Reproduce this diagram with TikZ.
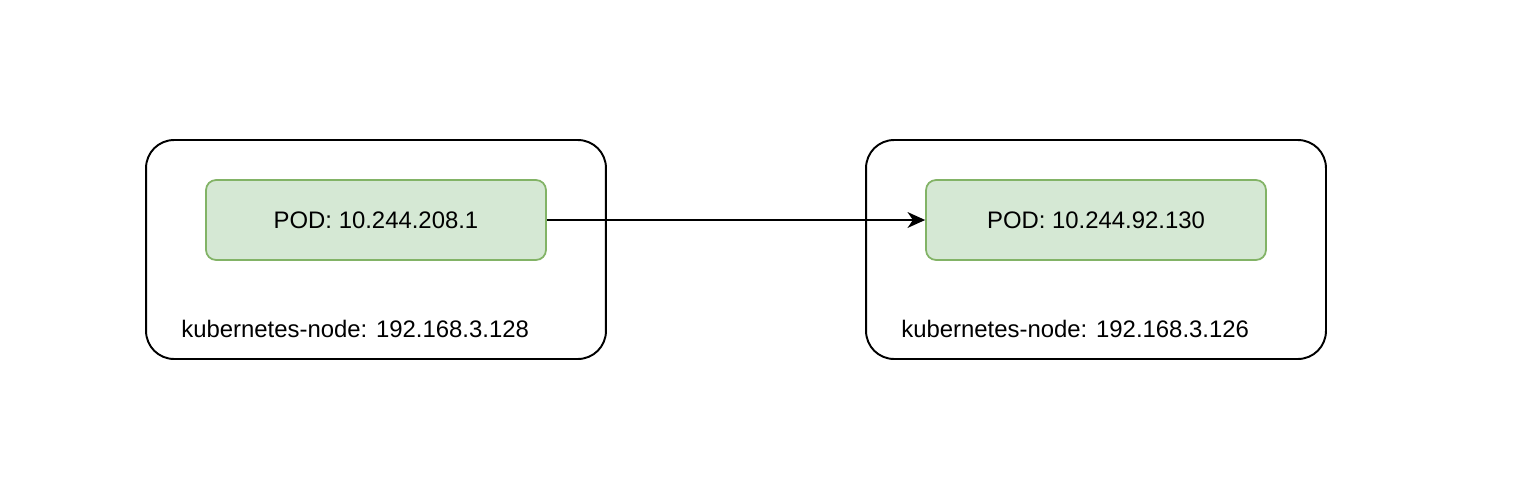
\documentclass[tikz,border=0pt]{standalone}
\usepackage{fontspec}
\setmainfont{Liberation Sans}
\usepackage{tikz}
\usetikzlibrary{arrows.meta}
\definecolor{podfill}{HTML}{D5E8D4}
\definecolor{podline}{HTML}{82B366}

\begin{document}
\begin{tikzpicture}[x=0.02cm, y=-0.02cm,
    host/.style={rectangle, draw=black, line width=1.1pt, rounded corners=0.56cm, minimum width=9.2cm, minimum height=4.38cm, anchor=center},
    pod/.style={rectangle, draw=podline, fill=podfill, line width=1pt, rounded corners=0.2cm, minimum width=6.8cm, minimum height=1.6cm, anchor=center, font=\fontsize{13.6}{16}\selectfont},
    hostlabel/.style={anchor=base west, inner sep=0pt, font=\fontsize{13.6}{16}\selectfont}]
            \useasboundingbox (0,0) rectangle (1518,494);
            \node[host] (hostA) at (376,249.5) {};
            \node[host] (hostB) at (1096,249.5) {};
            \node[pod] (podA) at (376,220) {POD: 10.244.208.1};
            \node[pod] (podB) at (1096,220) {POD: 10.244.92.130};
            \node[hostlabel] (labelA) at (181,337) {kubernetes-node: 192.168.3.128};
            \node[hostlabel] (labelB) at (901,337) {kubernetes-node: 192.168.3.126};
            \draw[line width=0.9pt, -{Stealth[length=10pt, width=9pt, inset=3pt]}] (podA) -- (podB);
        \end{tikzpicture}
\end{document}
